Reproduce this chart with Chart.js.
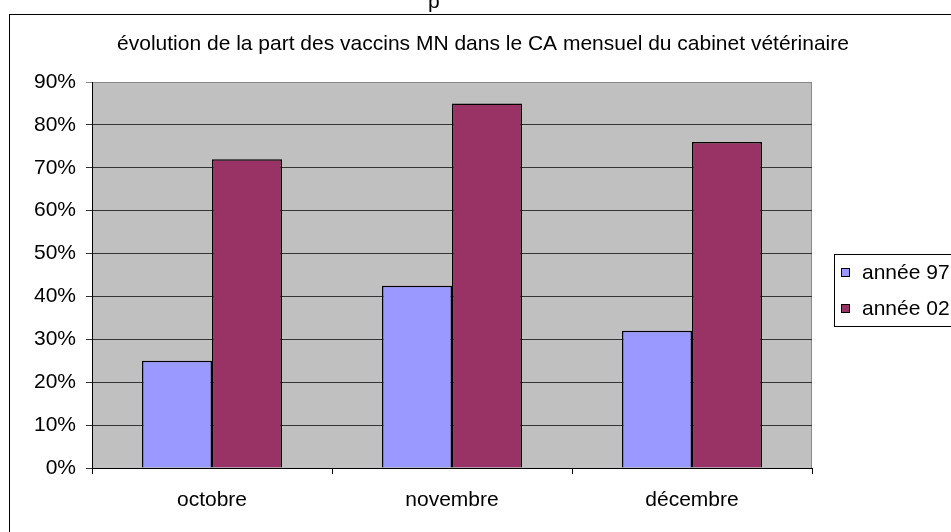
<!DOCTYPE html>
<html>
<head>
<meta charset="utf-8">
<script src="https://cdn.jsdelivr.net/npm/chart.js@4.4.0/dist/chart.umd.min.js"></script>
<style>
   body { margin: 0; background: #fff; overflow: hidden; }
   #wrap { position: relative; width: 951px; height: 532px; }
   #cut { position: absolute; left: 428px; top: -11px; font: 21px "Liberation Sans", Arial, sans-serif; color: #000; }
   canvas { position: absolute; left: 0; top: 0; }
</style>
</head>
<body>
<div id="wrap">
   <canvas id="chart" width="951" height="532"></canvas>
   <div id="cut">p</div>
</div>
<script>
// data
const categories = ["octobre", "novembre", "décembre"]
const annee97 = [0.25, 0.425, 0.32]
const annee02 = [0.72, 0.85, 0.76]
const seriesLabels = ["année 97", "année 02"]
const seriesColors = ["#9999ff", "#993366"]
const titleText = "évolution de la part des vaccins MN dans le CA mensuel du cabinet vétérinaire"

const fontFamily = '"Liberation Sans", Arial, sans-serif'
const fontSize = 21

// white background, outer frame and grey plot area
const backdrop = {
   id: "backdrop",
   beforeDraw(chart) {
      const ctx = chart.ctx
      const a = chart.chartArea
      ctx.save()
      ctx.fillStyle = "#fff"
      ctx.fillRect(0, 0, chart.width, chart.height)
      ctx.strokeStyle = "#000"
      ctx.lineWidth = 1
      ctx.strokeRect(9.5, 14.5, chart.width + 20, chart.height + 20)
      ctx.fillStyle = "#c0c0c0"
      ctx.fillRect(a.left, a.top, a.right - a.left, a.bottom - a.top)
      ctx.strokeStyle = "#8a8a8a"
      ctx.strokeRect(a.left + 0.5, a.top + 0.5, a.right - a.left - 1, a.bottom - a.top)
      ctx.restore()
   },
}

// title and boxed legend like the spreadsheet chart
const decorations = {
   id: "decorations",
   afterDraw(chart) {
      const ctx = chart.ctx
      ctx.save()
      ctx.fillStyle = "#000"
      ctx.font = fontSize + "px " + fontFamily
      ctx.textAlign = "center"
      ctx.textBaseline = "middle"
      ctx.fillText(titleText, 483, 44)

      // legend
      ctx.fillStyle = "#fff"
      ctx.fillRect(834, 254, 200, 72)
      ctx.strokeStyle = "#000"
      ctx.lineWidth = 1
      ctx.strokeRect(834.5, 254.5, 200, 72)
      ctx.textAlign = "left"
      chart.data.datasets.forEach((ds, i) => {
         const y = 272 + i * 36
         ctx.fillStyle = ds.backgroundColor
         ctx.fillRect(841, y - 4, 9, 9)
         ctx.strokeStyle = "#000"
         ctx.strokeRect(841.5, y - 3.5, 8, 8)
         ctx.fillStyle = "#000"
         ctx.fillText(ds.label, 862, y + 1)
      })
      ctx.restore()
   },
}

const chart = new Chart(document.getElementById("chart"), {
   type: "bar",
   data: {
      labels: categories,
      datasets: [
         {
            label: seriesLabels[0],
            data: annee97,
            backgroundColor: seriesColors[0],
            borderColor: "#000",
            borderWidth: 1.5,
         },
         {
            label: seriesLabels[1],
            data: annee02,
            backgroundColor: seriesColors[1],
            borderColor: "#000",
            borderWidth: 1.5,
         },
      ],
   },
   options: {
      responsive: false,
      animation: false,
      devicePixelRatio: 1,
      layout: { padding: { top: 82, right: 139, bottom: 0, left: 0 } },
      datasets: { bar: { categoryPercentage: 140 / 240, barPercentage: 1 } },
      plugins: {
         legend: { display: false },
         title: { display: false },
         tooltip: { enabled: false },
      },
      scales: {
         x: {
            afterFit: scale => { scale.height = 64 },
            grid: {
               offset: true,
               drawOnChartArea: false,
               tickLength: 6,
               color: "#000",
            },
            border: { color: "#000", width: 1 },
            ticks: {
               color: "#000",
               padding: 14,
               font: { family: fontFamily, size: fontSize },
            },
         },
         y: {
            min: 0,
            max: 0.9,
            afterFit: scale => { scale.width = 92 },
            grid: {
               tickLength: 6,
               color: c => (c.tick && c.tick.value >= 0.89 ? "#8a8a8a" : "#333"),
            },
            border: { color: "#000", width: 1 },
            ticks: {
               stepSize: 0.1,
               color: "#000",
               padding: 10,
               font: { family: fontFamily, size: fontSize },
               callback: v => Math.round(v * 100) + "%",
            },
         },
      },
   },
   plugins: [backdrop, decorations],
})
</script>
</body>
</html>
